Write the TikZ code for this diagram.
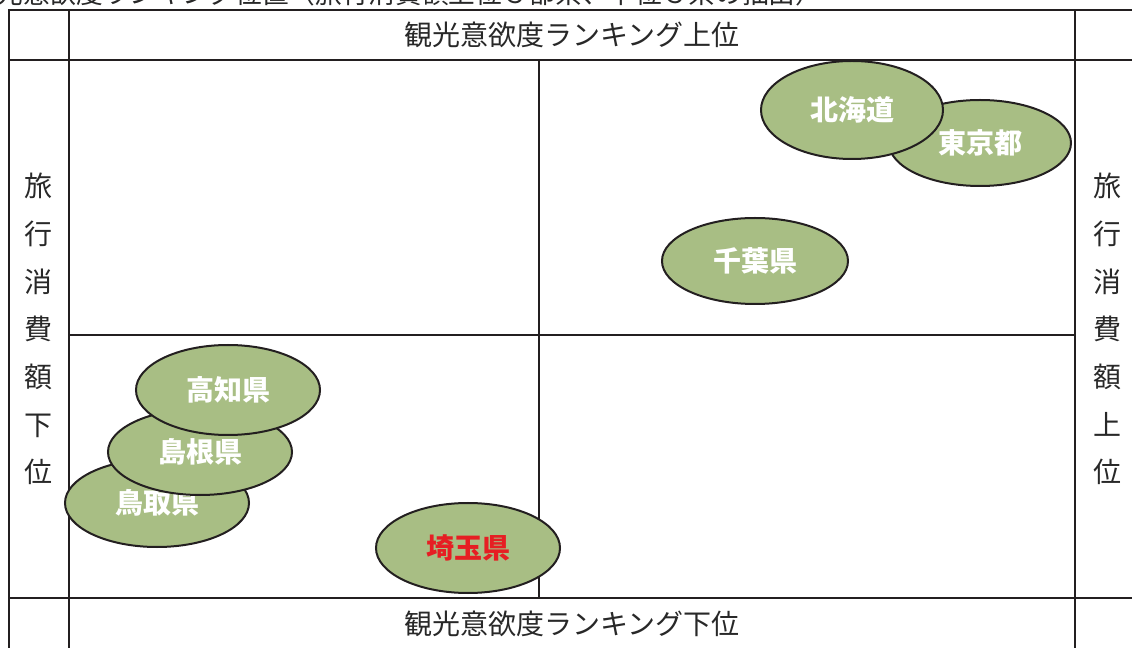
\documentclass[tikz,border=0pt]{standalone}
\usepackage{fontspec}
\newfontfamily\cjk{Noto Sans CJK JP}
\usetikzlibrary{shapes.geometric}
\definecolor{ink}{RGB}{35,31,32}
\definecolor{txt}{RGB}{40,40,40}
\definecolor{leaf}{RGB}{168,190,132}
\definecolor{hot}{RGB}{230,30,35}
\tikzset{
  grid/.style={draw=ink, line width=1.5pt},
  pref/.style={ellipse, draw=ink, line width=1.5pt, fill=leaf, inner sep=0pt,
    text=white, font=\cjk\bfseries\fontsize{21}{24}\selectfont},
  axislabel/.style={text=txt, inner sep=0pt, font=\cjk\fontsize{21}{24}\selectfont},
  sidelabel/.style={text=txt, inner sep=0pt, align=center, font=\cjk\fontsize{21}{35.75}\selectfont}
}
\begin{document}
\begin{tikzpicture}[x=0.75pt,y=-0.75pt]
\useasboundingbox (0,0) rectangle (1132,648);
% cut-off title
\node[anchor=base west, inner sep=0pt, text=txt, font=\cjk\fontsize{20}{22}\selectfont] (title) at (-30.5,4)
  {観光意欲度ランキング位置（旅行消費額上位３都県、下位３県の抽出）};
% grid
\draw[grid] (1140,10) -- (9,10) -- (9,660);
\draw[grid] (69,10) -- (69,660);
\draw[grid] (1075,10) -- (1075,660);
\draw[grid] (9,60) -- (1140,60);
\draw[grid] (9,598) -- (1140,598);
\draw[grid] (69,335) -- (1075,335);
\draw[grid] (539,60) -- (539,598);
% axis labels
\node[axislabel] (top) at (572,35) {観光意欲度ランキング上位};
\node[axislabel] (bottom) at (572,624) {観光意欲度ランキング下位};
\node[sidelabel] (left) at (38,329) {旅\\行\\消\\費\\額\\下\\位};
\node[sidelabel] (right) at (1107,329) {旅\\行\\消\\費\\額\\上\\位};
% prefectures
\node[pref, minimum width=136.5pt, minimum height=64.5pt] (tokyo) at (980,143) {\raisebox{-3pt}{東京都}};
\node[pref, minimum width=136.5pt, minimum height=73.5pt] (hokkaido) at (852,110) {北海道};
\node[pref, minimum width=139.5pt, minimum height=64.5pt] (chiba) at (755,261) {\raisebox{-2pt}{千葉県}};
\node[pref, minimum width=138pt, minimum height=66pt] (tottori) at (157,503) {鳥取県};
\node[pref, minimum width=138pt, minimum height=64.5pt] (shimane) at (200,452) {島根県};
\node[pref, minimum width=138pt, minimum height=67.5pt] (kochi) at (228,390) {\raisebox{-2pt}{高知県}};
\node[pref, minimum width=138pt, minimum height=67.5pt, text=hot] (saitama) at (468,548) {埼玉県};
\end{tikzpicture}
\end{document}
